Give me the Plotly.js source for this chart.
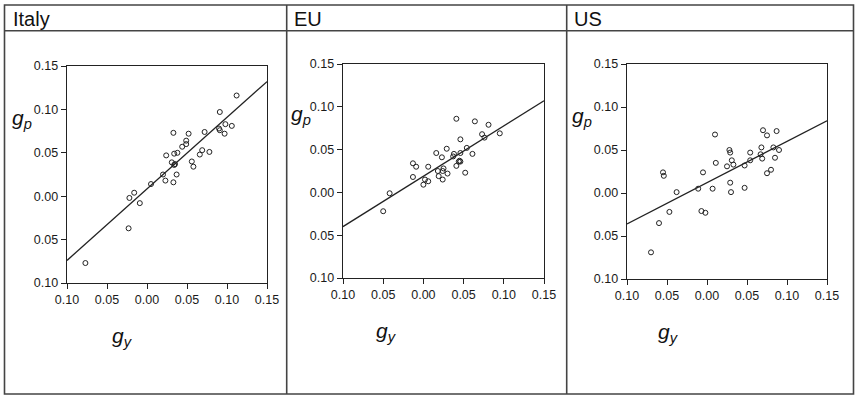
<!DOCTYPE html>
<html>
<head>
<meta charset="utf-8">
<script src="https://cdn.plot.ly/plotly-3.0.1.min.js"></script>
<style>html,body{margin:0;padding:0;background:#fff;}#chart{width:855px;height:395px;}</style>
</head>
<body>
<div id="chart"></div>
<script>
// ---- data ----
const panelNames = ["Italy", "EU", "US"];
const tickVals = [-0.10, -0.05, 0.00, 0.05, 0.10, 0.15];
const tickLabels = ["0.10", "0.05", "0.00", "0.05", "0.10", "0.15"];

const italyGy = [0.112, 0.091, 0.098, 0.106, 0.090, 0.091, 0.097, 0.072, 0.052, 0.033, 0.049, 0.049, 0.044, 0.024, 0.034, 0.038, 0.069, 0.066, 0.078, 0.031, 0.035, 0.034, 0.056, 0.058, 0.020, 0.037, 0.023, 0.033, 0.005, -0.016, -0.022, -0.009, -0.023, -0.077];
const italyGp = [0.116, 0.097, 0.083, 0.081, 0.078, 0.076, 0.072, 0.074, 0.072, 0.073, 0.064, 0.060, 0.057, 0.047, 0.049, 0.050, 0.053, 0.048, 0.051, 0.039, 0.037, 0.036, 0.040, 0.034, 0.025, 0.025, 0.018, 0.016, 0.014, 0.004, -0.002, -0.008, -0.037, -0.077];
const italyLineX = [-0.10, 0.15];
const italyLineY = [-0.074, 0.132];

const euGy = [0.041, 0.064, 0.081, 0.073, 0.076, 0.095, 0.046, 0.029, 0.016, 0.023, 0.038, 0.037, 0.046, 0.054, 0.061, 0.045, 0.046, 0.044, 0.041, 0.052, -0.013, -0.009, 0.006, 0.018, 0.025, 0.024, 0.030, 0.019, 0.024, -0.013, 0.002, 0.006, 0.000, -0.042, -0.050];
const euGp = [0.086, 0.083, 0.079, 0.068, 0.064, 0.069, 0.062, 0.051, 0.046, 0.041, 0.045, 0.042, 0.046, 0.052, 0.045, 0.037, 0.036, 0.036, 0.031, 0.023, 0.034, 0.030, 0.030, 0.025, 0.028, 0.025, 0.022, 0.019, 0.015, 0.018, 0.015, 0.013, 0.009, -0.001, -0.022];
const euLineX = [-0.10, 0.15];
const euLineY = [-0.040, 0.107];

const usGy = [0.070, 0.087, 0.075, 0.010, 0.028, 0.029, 0.054, 0.068, 0.067, 0.083, 0.090, 0.085, 0.069, 0.054, 0.031, 0.033, 0.025, 0.011, 0.047, 0.080, 0.075, -0.055, -0.054, -0.005, 0.029, 0.030, 0.047, 0.007, -0.011, -0.038, -0.047, -0.007, -0.002, -0.060, -0.070];
const usGp = [0.073, 0.072, 0.067, 0.068, 0.050, 0.047, 0.047, 0.053, 0.045, 0.053, 0.050, 0.041, 0.040, 0.038, 0.038, 0.033, 0.031, 0.035, 0.032, 0.027, 0.023, 0.024, 0.020, 0.024, 0.012, 0.001, 0.006, 0.005, 0.005, 0.001, -0.022, -0.021, -0.023, -0.035, -0.069];
const usLineX = [-0.10, 0.15];
const usLineY = [-0.036, 0.084];

// ---- layout helpers (pixel geometry) ----
const W = 855, H = 395;
const px = v => v / W;
const py = v => 1 - v / H;
const boxes = [
  {x0: 67, x1: 267, y0: 66, y1: 283},
  {x0: 343, x1: 544, y0: 64, y1: 278},
  {x0: 627, x1: 827, y0: 64, y1: 279}
];
const series = [
  {gx: italyGy, gp: italyGp, lx: italyLineX, ly: italyLineY},
  {gx: euGy, gp: euGp, lx: euLineX, ly: euLineY},
  {gx: usGy, gp: usGp, lx: usLineX, ly: usLineY}
];
const ink = "#222";
const traces = [];
const layout = {
  width: W, height: H,
  margin: {l: 0, r: 0, t: 0, b: 0},
  paper_bgcolor: "#fff", plot_bgcolor: "#fff",
  showlegend: false,
  font: {family: "Liberation Sans, Arial, sans-serif", size: 12, color: ink},
  shapes: [], annotations: []
};

series.forEach((s, i) => {
  const n = i === 0 ? "" : String(i + 1);
  traces.push({
    type: "scatter", mode: "markers", x: s.gx, y: s.gp,
    xaxis: "x" + n, yaxis: "y" + n,
    marker: {symbol: "circle-open", size: 5, color: ink, line: {width: 1, color: ink}},
    cliponaxis: false, hoverinfo: "skip"
  });
  traces.push({
    type: "scatter", mode: "lines", x: s.lx, y: s.ly,
    xaxis: "x" + n, yaxis: "y" + n,
    line: {color: ink, width: 1.3}, hoverinfo: "skip"
  });
  const b = boxes[i];
  const ax = {
    showgrid: false, zeroline: false, showline: true, mirror: true,
    linecolor: ink, linewidth: 1.3, ticks: "outside", ticklen: 5, tickwidth: 1, tickcolor: ink,
    tickvals: tickVals, ticktext: tickLabels, range: [-0.10, 0.15],
    tickfont: {family: "Liberation Sans, Arial, sans-serif", size: 12.5, color: "#1a1a1a"},
    fixedrange: true
  };
  layout["xaxis" + n] = Object.assign({}, ax, {domain: [px(b.x0), px(b.x1)], anchor: "y" + n});
  layout["yaxis" + n] = Object.assign({}, ax, {domain: [py(b.y1), py(b.y0)], anchor: "x" + n});
});

// panel frames
const lineStyle = {color: "#444", width: 1.6};
const rect = (x0, y0, x1, y1) => ({type: "rect", xref: "paper", yref: "paper", x0: px(x0), x1: px(x1), y0: py(y1), y1: py(y0), line: lineStyle});
const seg = (x0, y0, x1, y1) => ({type: "line", xref: "paper", yref: "paper", x0: px(x0), x1: px(x1), y0: py(y0), y1: py(y1), line: lineStyle});
layout.shapes.push(rect(4.5, 5, 853.5, 394));
layout.shapes.push(seg(4.5, 30.7, 853.5, 30.7));
layout.shapes.push(seg(286.7, 5, 286.7, 394));
layout.shapes.push(seg(566.7, 5, 566.7, 394));

// header titles
const headerX = [11, 292, 572];
panelNames.forEach((name, i) => {
  layout.annotations.push({
    xref: "paper", yref: "paper", x: px(headerX[i]), y: py(19), xanchor: "left", yanchor: "middle",
    text: name, showarrow: false,
    font: {family: "Liberation Sans, Arial, sans-serif", size: 20, color: "#111"}
  });
});

// axis symbol labels
const gpX = [22, 301, 582];
const gpY = [119, 115, 117];
const gyX = [122, 386, 668];
const gyY = [337, 332, 333];
for (let i = 0; i < 3; i++) {
  layout.annotations.push({
    xref: "paper", yref: "paper", x: px(gpX[i]), y: py(gpY[i]), xanchor: "center", yanchor: "middle",
    text: "<i>g</i><sub><i>p</i></sub>", showarrow: false,
    font: {family: "Liberation Sans, Arial, sans-serif", size: 21, color: "#111"}
  });
  layout.annotations.push({
    xref: "paper", yref: "paper", x: px(gyX[i]), y: py(gyY[i]), xanchor: "center", yanchor: "middle",
    text: "<i>g</i><sub><i>y</i></sub>", showarrow: false,
    font: {family: "Liberation Sans, Arial, sans-serif", size: 21, color: "#111"}
  });
}

Plotly.newPlot("chart", traces, layout, {staticPlot: true, displayModeBar: false});
</script>
</body>
</html>
